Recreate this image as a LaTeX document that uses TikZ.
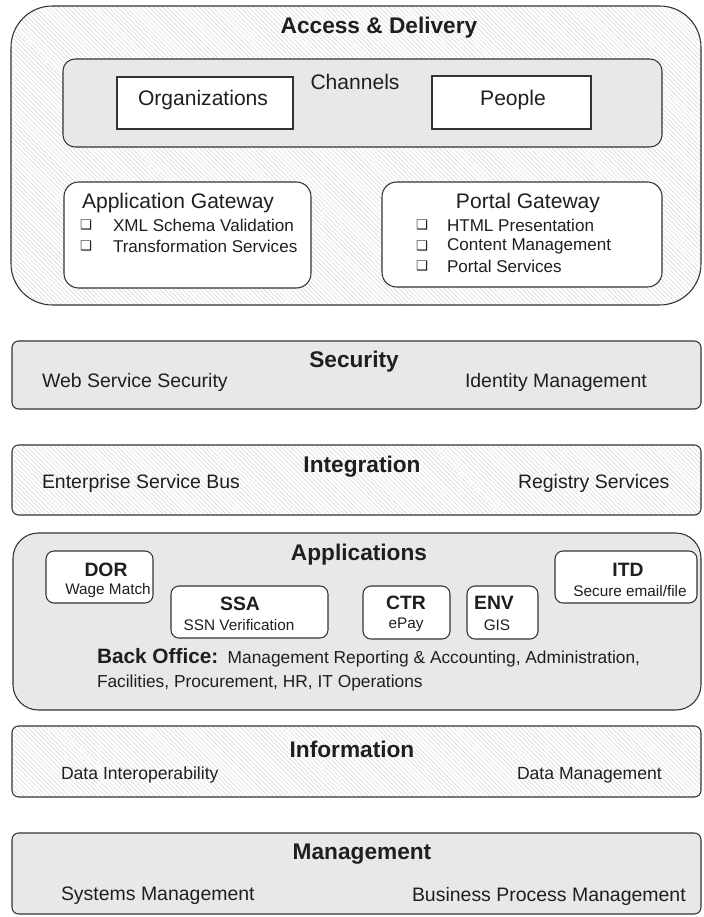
\documentclass[tikz,border=0pt]{standalone}
\usepackage{fontspec}
\setmainfont{Liberation Sans}
\newfontfamily\symfont{DejaVu Sans}
\usetikzlibrary{patterns.meta,fit}
\newcommand{\fsz}[1]{\fontsize{#1}{#1}\selectfont}
\begin{document}
\begin{tikzpicture}[x=0.75pt,y=-0.75pt,
  every node/.style={inner sep=0pt,outer sep=0pt,text=black!88},
  border/.style={draw=black!80,line width=0.8pt},
  hatchbox/.style={border,preaction={fill=white},pattern={Lines[angle=-45,distance=2.4pt,line width=0.35pt]},pattern color=black!17},
  graybox/.style={border,fill=black!9},
  whitebox/.style={border,fill=white},
  fitbox/.style={rectangle,inner sep=0pt},
  ttl/.style={font=\fsz{17}\bfseries},
  bodytxt/.style={font=\fsz{15.8}},
  bul/.style={font=\fsz{12.8}},
  itm/.style={font=\fsz{14.6}},
  itms/.style={font=\fsz{13.2}},
  appttl/.style={font=\fsz{14.5}\bfseries},
  appsub/.style={font=\fsz{11.5}},
  boxbul/.style={font=\symfont\fsz{10}}
]
\useasboundingbox (0,0) rectangle (703,917);

% Access & Delivery
\node[fitbox,hatchbox,rounded corners=31pt,fit={(11,6) (701,305)}] (access) {};
\node[ttl] (accessT) at (379,28) {Access \& Delivery};
\node[fitbox,graybox,rounded corners=9pt,fit={(63,59) (662,147)}] (channels) {};
\node[bodytxt] (channelsT) at (355,82) {Channels};
\node[fitbox,whitebox,fit={(117,77) (293,129)}] (orgs) {};
\node[bodytxt] (orgsT) at (203,100) {Organizations};
\node[fitbox,whitebox,fit={(432,76) (591,129)}] (people) {};
\node[bodytxt] (peopleT) at (513,100) {People};

\node[fitbox,whitebox,rounded corners=11pt,fit={(64,182) (311,288)}] (appgw) {};
\node[bodytxt,anchor=west] (appgwT) at (82,203) {Application Gateway};
\node[boxbul] (ab1) at (86,225) {❑};
\node[bul,anchor=west] (a1) at (113,225) {XML Schema Validation};
\node[boxbul] (ab2) at (86,246) {❑};
\node[bul,anchor=west] (a2) at (113,246) {Transformation Services};

\node[fitbox,whitebox,rounded corners=11pt,fit={(382,182) (662,287)}] (portalgw) {};
\node[bodytxt] (portalgwT) at (528,203) {Portal Gateway};
\node[boxbul] (pb1) at (422,225) {❑};
\node[bul,anchor=west] (p1) at (447,225) {HTML Presentation};
\node[boxbul] (pb2) at (422,246) {❑};
\node[bul,anchor=west] (p2) at (447,246) {Content Management};
\node[boxbul] (pb3) at (422,266) {❑};
\node[bul,anchor=west] (p3) at (447,266) {Portal Services};

% Security
\node[fitbox,graybox,rounded corners=5pt,fit={(12,341) (701,409)}] (security) {};
\node[ttl] (securityT) at (354,362) {Security};
\node[itm,anchor=west] (wss) at (42,382) {Web Service Security};
\node[itm,anchor=west] (idm) at (465,382) {Identity Management};

% Integration
\node[fitbox,hatchbox,rounded corners=5pt,fit={(12,445) (701,515)}] (integration) {};
\node[ttl] (integrationT) at (362,467) {Integration};
\node[itm,anchor=west] (esb) at (42,483) {Enterprise Service Bus};
\node[itm,anchor=west] (reg) at (518,483) {Registry Services};

% Applications
\node[fitbox,graybox,rounded corners=19pt,fit={(13,533) (701,710)}] (applications) {};
\node[ttl] (applicationsT) at (359,555) {Applications};
\node[fitbox,whitebox,rounded corners=6pt,fit={(46,551) (153,603)}] (dor) {};
\node[appttl] (dorT) at (106,570) {DOR};
\node[appsub] (dorS) at (108,591) {Wage Match};
\node[fitbox,whitebox,rounded corners=6pt,fit={(171,586) (328,638)}] (ssa) {};
\node[appttl] (ssaT) at (240,604) {SSA};
\node[appsub] (ssaS) at (239,625) {SSN Verification};
\node[fitbox,whitebox,rounded corners=6pt,fit={(363,586) (450,639)}] (ctr) {};
\node[appttl] (ctrT) at (406,603) {CTR};
\node[appsub] (ctrS) at (406,625) {ePay};
\node[fitbox,whitebox,rounded corners=6pt,fit={(467,586) (538,639)}] (env) {};
\node[appttl] (envT) at (494,603) {ENV};
\node[appsub] (envS) at (497,625) {GIS};
\node[fitbox,whitebox,rounded corners=6pt,fit={(555,551) (697,603)}] (itd) {};
\node[appttl] (itdT) at (628,570) {ITD};
\node[appsub] (itdS) at (630,591) {Secure email/file};
\node[anchor=west] (bo1) at (97,658) {{\fsz{15.6}\bfseries Back Office:}\hspace{7pt}{\fsz{13}Management Reporting \& Accounting, Administration,}};
\node[anchor=west,font=\fsz{13}] (bo2) at (97,683) {Facilities, Procurement, HR, IT Operations};

% Information
\node[fitbox,hatchbox,rounded corners=5pt,fit={(12,726) (701,797)}] (information) {};
\node[ttl] (informationT) at (352,749) {Information};
\node[itms,anchor=west] (dint) at (61,775) {Data Interoperability};
\node[itms,anchor=west] (dman) at (517,775) {Data Management};

% Management
\node[fitbox,graybox,rounded corners=5pt,fit={(12,833) (701,914)}] (management) {};
\node[ttl] (managementT) at (362,854) {Management};
\node[itm,anchor=west] (sysm) at (61,896) {Systems Management};
\node[itm,anchor=west] (bpm) at (412,896) {Business Process Management};
\end{tikzpicture}
\end{document}
